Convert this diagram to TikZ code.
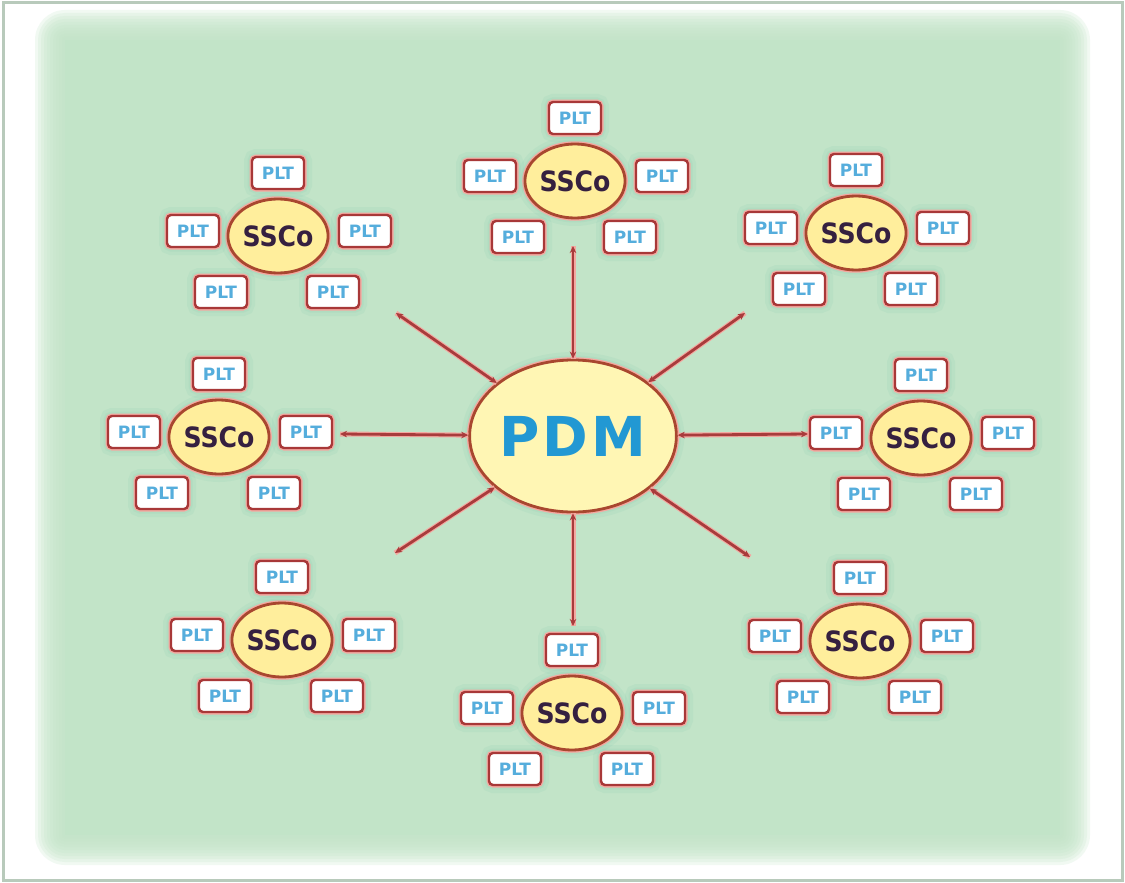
\documentclass[tikz,border=0pt]{standalone}
\usepackage{fontspec}
\setmainfont{DejaVu Sans}
\newfontfamily\condfont{DejaVu Sans Condensed}
\usetikzlibrary{arrows.meta,shapes.geometric,calc}
\definecolor{bggreen}{HTML}{C2E4C8}
\definecolor{framec}{HTML}{B8CABB}
\definecolor{glowc}{HTML}{7FC6AE}
\definecolor{halo}{HTML}{F4A8A0}
\definecolor{ellb}{HTML}{A8472F}
\definecolor{pdmfill}{HTML}{FFF6B4}
\definecolor{sscofill}{HTML}{FFEE9C}
\definecolor{sscotext}{HTML}{352040}
\definecolor{pdmtext}{HTML}{2298D3}
\definecolor{pltb}{HTML}{A83838}
\definecolor{plttext}{HTML}{55ADDC}
\definecolor{arrc}{HTML}{A83C3C}
\begin{document}
\begin{tikzpicture}[x=1pt,y=-1pt,
  glow/.style={preaction={draw=glowc, line width=16pt, opacity=0.12},
               preaction={draw=glowc, line width=9pt, opacity=0.15}},
  pdmnode/.style={ellipse, minimum width=192pt, minimum height=152pt, inner sep=0pt,
    fill=pdmfill, draw=ellb, line width=2.8pt, glow,
    preaction={draw=halo, line width=5.5pt},
    text=pdmtext, font=\fontsize{55}{55}\selectfont\bfseries\addfontfeature{LetterSpace=5}},
  ssco/.style={ellipse, minimum width=90pt, minimum height=74pt, inner sep=0pt,
    fill=sscofill, draw=ellb, line width=2.8pt, glow,
    preaction={draw=halo, line width=5.5pt},
    text=sscotext, font=\condfont\fontsize{28}{28}\selectfont\bfseries},
  plt/.style={rectangle, rounded corners=4pt, minimum width=52pt, minimum height=32pt,
    inner sep=0pt, fill=white, draw=pltb, line width=2.4pt, glow,
    preaction={draw=halo, line width=5pt},
    text=plttext, font=\fontsize{17}{17}\selectfont\bfseries},
  conn/.style={draw=arrc, line width=2.8pt,
    {Stealth[length=7pt,width=6.5pt]}-{Stealth[length=7pt,width=6.5pt]},
    preaction={draw=halo, line width=5pt, -}}
]
\useasboundingbox (0,0) rectangle (1125,883);
\fill[white] (0,0) rectangle (1125,883);
\draw[framec, line width=3pt] (3,3) rectangle (1122,880);
% soft-edged green field
\foreach \i in {10,9,...,1}{
  \pgfmathsetmacro{\d}{\i*3}
  \fill[bggreen, opacity=0.22, rounded corners=\d pt] ({65-\d},{40-\d}) rectangle ({1060+\d},{835+\d});
}
\fill[bggreen] (65,40) rectangle (1060,835);

% central node
\node[pdmnode] (pdm) at (573,436) {PDM};

% clusters
\foreach \n/\cx/\cy in {1/575/181, 2/278/236, 3/856/233, 4/219/437,
                        5/921/438, 6/282/640, 7/572/713, 8/860/641}{
  \node[ssco] (s\n) at (\cx,\cy) {SSCo};
  \node[plt] (s\n-t)  at (\cx,\cy-63) {PLT};
  \node[plt] (s\n-l)  at (\cx-85,\cy-5) {PLT};
  \node[plt] (s\n-r)  at (\cx+87,\cy-5) {PLT};
  \node[plt] (s\n-bl) at (\cx-57,\cy+56) {PLT};
  \node[plt] (s\n-br) at (\cx+55,\cy+56) {PLT};
}

% free ends of the connectors
\coordinate (eN)  at (573,246);
\coordinate (eS)  at (573,626);
\coordinate (eW)  at (340,434);
\coordinate (eE)  at (808,434);
\coordinate (eNW) at (396,313);
\coordinate (eNE) at (745,313);
\coordinate (eSW) at (395,553);
\coordinate (eSE) at (750,557);

\foreach \e in {eN,eS,eW,eE,eNW,eNE,eSW,eSE}{
  \draw[conn] (pdm) -- (\e);
}
\end{tikzpicture}
\end{document}
